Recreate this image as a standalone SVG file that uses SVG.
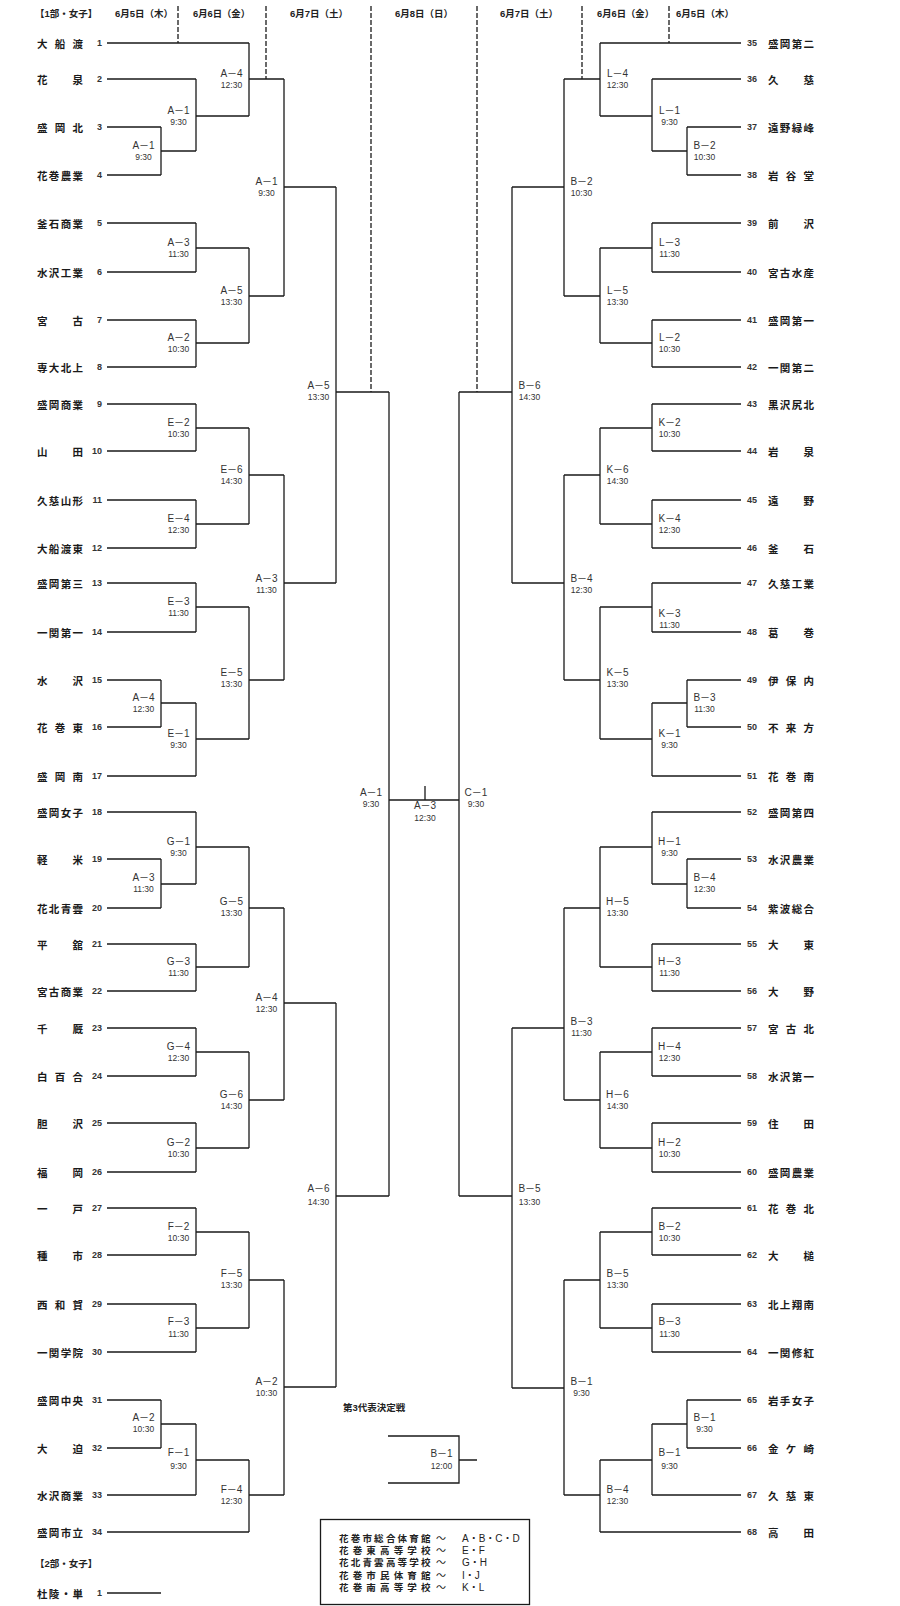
<svg xmlns="http://www.w3.org/2000/svg" width="900" height="1606" viewBox="0 0 900 1606">
<style>
.ln{stroke:#1a1a1a;stroke-width:1.3;fill:none}
.ds{stroke:#1a1a1a;stroke-width:1.3;fill:none;stroke-dasharray:5 2}
text{dominant-baseline:central}
.nm{font-family:"Noto Sans CJK JP",sans-serif;font-size:10.5px;font-weight:700;fill:#1a1a1a}
.no{font-family:"Liberation Sans",sans-serif;font-size:9px;font-weight:700;fill:#333}
.nl{text-anchor:end}
.hd{font-family:"Liberation Sans","Noto Sans CJK JP",sans-serif;font-size:9.5px;font-weight:700;fill:#222}
.mn{font-family:"Liberation Sans","Noto Sans CJK JP",sans-serif;font-size:10px;fill:#333;text-anchor:middle}
.mt{font-family:"Liberation Sans",sans-serif;font-size:8.5px;fill:#333;text-anchor:middle}
.lg{font-family:"Noto Sans CJK JP",sans-serif;font-size:9.5px;font-weight:700;fill:#222}
.lc{font-family:"Liberation Sans","Noto Sans CJK JP",sans-serif;font-size:10px;fill:#222}
</style>
<rect width="900" height="1606" fill="#fff"/>

<g id="headers">
<text class="hd" x="35" y="13">【1部・女子】</text>
<text class="hd" x="115" y="13" textLength="58" lengthAdjust="spacingAndGlyphs">6月5日（木）</text>
<text class="hd" x="193" y="13" textLength="57" lengthAdjust="spacingAndGlyphs">6月6日（金）</text>
<text class="hd" x="290" y="13" textLength="58" lengthAdjust="spacingAndGlyphs">6月7日（土）</text>
<text class="hd" x="395" y="13" textLength="58" lengthAdjust="spacingAndGlyphs">6月8日（日）</text>
<text class="hd" x="500" y="13" textLength="58" lengthAdjust="spacingAndGlyphs">6月7日（土）</text>
<text class="hd" x="597" y="13" textLength="57" lengthAdjust="spacingAndGlyphs">6月6日（金）</text>
<text class="hd" x="676" y="13" textLength="58" lengthAdjust="spacingAndGlyphs">6月5日（木）</text>
</g>

<g id="connectors">
<path class="ds" d="M178 6V43M266 6V79M371 6V392M477 6V392M582 6V79M669 6V43"/>
<path class="ln" d="M107 43H249M107 79H196M107 127H161M107 175H161M107 223H196M107 272H196M107 320H196M107 367H196M107 404H196M107 451H196M107 500H196M107 548H196M107 583H196M107 632H196M107 680H161M107 727H161M107 776H196M107 812H196M107 859H161M107 908H161M107 944H196M107 991H196M107 1028H196M107 1076H196M107 1123H196M107 1172H196M107 1208H196M107 1255H196M107 1304H196M107 1352H196M107 1400H161M107 1448H161M107 1495H196M107 1532H249"/>
<path class="ln" d="M741 43H600M741 79H652M741 127H687M741 175H687M741 223H652M741 272H652M741 320H652M741 367H652M741 404H652M741 451H652M741 500H652M741 548H652M741 583H652M741 632H652M741 680H687M741 727H687M741 776H652M741 812H652M741 859H687M741 908H687M741 944H652M741 991H652M741 1028H652M741 1076H652M741 1123H652M741 1172H652M741 1208H652M741 1255H652M741 1304H652M741 1352H652M741 1400H687M741 1448H687M741 1495H652M741 1532H600"/>
<path class="ln" d="M161 127V175M161 151H196
M196 79V151M196 116H249
M249 43V116M249 79H284
M196 223V272M196 248H249
M196 320V367M196 343H249
M249 248V343M249 296H284
M284 79V296M284 187H336
M196 404V451M196 428H249
M196 500V548M196 524H249
M249 428V524M249 475H284
M196 583V632M196 607H249
M161 680V727M161 703H196
M196 703V776M196 739H249
M249 607V739M249 680H284
M284 475V680M284 583H336
M336 187V583M336 392H389
M196 812V884M196 847H249
M161 859V908M161 884H196
M196 944V991M196 967H249
M249 847V967M249 908H284
M196 1028V1076M196 1052H249
M196 1123V1172M196 1148H249
M249 1052V1148M249 1100H284
M284 908V1100M284 1003H336
M196 1208V1255M196 1232H249
M196 1304V1352M196 1328H249
M249 1232V1328M249 1280H284
M161 1400V1448M161 1424H196
M196 1424V1495M196 1460H249
M249 1460V1532M249 1495H284
M284 1280V1495M284 1387H336
M336 1003V1387M336 1196H389
M389 392V1196"/>
<path class="ln" d="M687 127V175M687 151H652
M652 79V151M652 116H600
M600 43V116M600 79H564
M652 223V272M652 248H600
M652 320V367M652 343H600
M600 248V343M600 296H564
M564 79V296M564 187H512
M652 404V451M652 428H600
M652 500V548M652 524H600
M600 428V524M600 475H564
M652 583V632M652 607H600
M687 680V727M687 703H652
M652 703V776M652 739H600
M600 607V739M600 680H564
M564 475V680M564 583H512
M512 187V583M512 392H459
M687 859V908M687 884H652
M652 812V884M652 847H600
M652 944V991M652 967H600
M600 847V967M600 908H564
M652 1028V1076M652 1052H600
M652 1123V1172M652 1148H600
M600 1052V1148M600 1100H564
M564 908V1100M564 1028H512
M652 1208V1255M652 1232H600
M652 1304V1352M652 1328H600
M600 1232V1328M600 1280H564
M687 1400V1448M687 1424H652
M652 1424V1495M652 1460H600
M600 1460V1532M600 1495H564
M564 1280V1495M564 1388H512
M512 1028V1388M512 1196H459
M459 392V1196"/>
<path class="ln" d="M389 800H459M425 786V800"/>
<path class="ln" d="M388 1436H459V1483H388M459 1460H477"/>
<path class="ln" d="M107 1593H161"/>
</g>

<g id="left-teams">
<g id="t1"><text class="nm" x="37 54.8 72.5" y="43">大船渡</text><text class="no nl" x="102" y="43">1</text></g>
<g id="t2"><text class="nm" x="37 72.5" y="79">花泉</text><text class="no nl" x="102" y="79">2</text></g>
<g id="t3"><text class="nm" x="37 54.8 72.5" y="127">盛岡北</text><text class="no nl" x="102" y="127">3</text></g>
<g id="t4"><text class="nm" x="37 48.8 60.7 72.5" y="175">花巻農業</text><text class="no nl" x="102" y="175">4</text></g>
<g id="t5"><text class="nm" x="37 48.8 60.7 72.5" y="223">釜石商業</text><text class="no nl" x="102" y="223">5</text></g>
<g id="t6"><text class="nm" x="37 48.8 60.7 72.5" y="272">水沢工業</text><text class="no nl" x="102" y="272">6</text></g>
<g id="t7"><text class="nm" x="37 72.5" y="320">宮古</text><text class="no nl" x="102" y="320">7</text></g>
<g id="t8"><text class="nm" x="37 48.8 60.7 72.5" y="367">専大北上</text><text class="no nl" x="102" y="367">8</text></g>
<g id="t9"><text class="nm" x="37 48.8 60.7 72.5" y="404">盛岡商業</text><text class="no nl" x="102" y="404">9</text></g>
<g id="t10"><text class="nm" x="37 72.5" y="451">山田</text><text class="no nl" x="102" y="451">10</text></g>
<g id="t11"><text class="nm" x="37 48.8 60.7 72.5" y="500">久慈山形</text><text class="no nl" x="102" y="500">11</text></g>
<g id="t12"><text class="nm" x="37 48.8 60.7 72.5" y="548">大船渡東</text><text class="no nl" x="102" y="548">12</text></g>
<g id="t13"><text class="nm" x="37 48.8 60.7 72.5" y="583">盛岡第三</text><text class="no nl" x="102" y="583">13</text></g>
<g id="t14"><text class="nm" x="37 48.8 60.7 72.5" y="632">一関第一</text><text class="no nl" x="102" y="632">14</text></g>
<g id="t15"><text class="nm" x="37 72.5" y="680">水沢</text><text class="no nl" x="102" y="680">15</text></g>
<g id="t16"><text class="nm" x="37 54.8 72.5" y="727">花巻東</text><text class="no nl" x="102" y="727">16</text></g>
<g id="t17"><text class="nm" x="37 54.8 72.5" y="776">盛岡南</text><text class="no nl" x="102" y="776">17</text></g>
<g id="t18"><text class="nm" x="37 48.8 60.7 72.5" y="812">盛岡女子</text><text class="no nl" x="102" y="812">18</text></g>
<g id="t19"><text class="nm" x="37 72.5" y="859">軽米</text><text class="no nl" x="102" y="859">19</text></g>
<g id="t20"><text class="nm" x="37 48.8 60.7 72.5" y="908">花北青雲</text><text class="no nl" x="102" y="908">20</text></g>
<g id="t21"><text class="nm" x="37 72.5" y="944">平舘</text><text class="no nl" x="102" y="944">21</text></g>
<g id="t22"><text class="nm" x="37 48.8 60.7 72.5" y="991">宮古商業</text><text class="no nl" x="102" y="991">22</text></g>
<g id="t23"><text class="nm" x="37 72.5" y="1028">千厩</text><text class="no nl" x="102" y="1028">23</text></g>
<g id="t24"><text class="nm" x="37 54.8 72.5" y="1076">白百合</text><text class="no nl" x="102" y="1076">24</text></g>
<g id="t25"><text class="nm" x="37 72.5" y="1123">胆沢</text><text class="no nl" x="102" y="1123">25</text></g>
<g id="t26"><text class="nm" x="37 72.5" y="1172">福岡</text><text class="no nl" x="102" y="1172">26</text></g>
<g id="t27"><text class="nm" x="37 72.5" y="1208">一戸</text><text class="no nl" x="102" y="1208">27</text></g>
<g id="t28"><text class="nm" x="37 72.5" y="1255">種市</text><text class="no nl" x="102" y="1255">28</text></g>
<g id="t29"><text class="nm" x="37 54.8 72.5" y="1304">西和賀</text><text class="no nl" x="102" y="1304">29</text></g>
<g id="t30"><text class="nm" x="37 48.8 60.7 72.5" y="1352">一関学院</text><text class="no nl" x="102" y="1352">30</text></g>
<g id="t31"><text class="nm" x="37 48.8 60.7 72.5" y="1400">盛岡中央</text><text class="no nl" x="102" y="1400">31</text></g>
<g id="t32"><text class="nm" x="37 72.5" y="1448">大迫</text><text class="no nl" x="102" y="1448">32</text></g>
<g id="t33"><text class="nm" x="37 48.8 60.7 72.5" y="1495">水沢商業</text><text class="no nl" x="102" y="1495">33</text></g>
<g id="t34"><text class="nm" x="37 48.8 60.7 72.5" y="1532">盛岡市立</text><text class="no nl" x="102" y="1532">34</text></g>
</g>

<g id="right-teams">
<g id="t35"><text class="no" x="747" y="43">35</text><text class="nm" x="768 779.8 791.7 803.5" y="43">盛岡第二</text></g>
<g id="t36"><text class="no" x="747" y="79">36</text><text class="nm" x="768 803.5" y="79">久慈</text></g>
<g id="t37"><text class="no" x="747" y="127">37</text><text class="nm" x="768 779.8 791.7 803.5" y="127">遠野緑峰</text></g>
<g id="t38"><text class="no" x="747" y="175">38</text><text class="nm" x="768 785.8 803.5" y="175">岩谷堂</text></g>
<g id="t39"><text class="no" x="747" y="223">39</text><text class="nm" x="768 803.5" y="223">前沢</text></g>
<g id="t40"><text class="no" x="747" y="272">40</text><text class="nm" x="768 779.8 791.7 803.5" y="272">宮古水産</text></g>
<g id="t41"><text class="no" x="747" y="320">41</text><text class="nm" x="768 779.8 791.7 803.5" y="320">盛岡第一</text></g>
<g id="t42"><text class="no" x="747" y="367">42</text><text class="nm" x="768 779.8 791.7 803.5" y="367">一関第二</text></g>
<g id="t43"><text class="no" x="747" y="404">43</text><text class="nm" x="768 779.8 791.7 803.5" y="404">黒沢尻北</text></g>
<g id="t44"><text class="no" x="747" y="451">44</text><text class="nm" x="768 803.5" y="451">岩泉</text></g>
<g id="t45"><text class="no" x="747" y="500">45</text><text class="nm" x="768 803.5" y="500">遠野</text></g>
<g id="t46"><text class="no" x="747" y="548">46</text><text class="nm" x="768 803.5" y="548">釜石</text></g>
<g id="t47"><text class="no" x="747" y="583">47</text><text class="nm" x="768 779.8 791.7 803.5" y="583">久慈工業</text></g>
<g id="t48"><text class="no" x="747" y="632">48</text><text class="nm" x="768 803.5" y="632">葛巻</text></g>
<g id="t49"><text class="no" x="747" y="680">49</text><text class="nm" x="768 785.8 803.5" y="680">伊保内</text></g>
<g id="t50"><text class="no" x="747" y="727">50</text><text class="nm" x="768 785.8 803.5" y="727">不来方</text></g>
<g id="t51"><text class="no" x="747" y="776">51</text><text class="nm" x="768 785.8 803.5" y="776">花巻南</text></g>
<g id="t52"><text class="no" x="747" y="812">52</text><text class="nm" x="768 779.8 791.7 803.5" y="812">盛岡第四</text></g>
<g id="t53"><text class="no" x="747" y="859">53</text><text class="nm" x="768 779.8 791.7 803.5" y="859">水沢農業</text></g>
<g id="t54"><text class="no" x="747" y="908">54</text><text class="nm" x="768 779.8 791.7 803.5" y="908">紫波総合</text></g>
<g id="t55"><text class="no" x="747" y="944">55</text><text class="nm" x="768 803.5" y="944">大東</text></g>
<g id="t56"><text class="no" x="747" y="991">56</text><text class="nm" x="768 803.5" y="991">大野</text></g>
<g id="t57"><text class="no" x="747" y="1028">57</text><text class="nm" x="768 785.8 803.5" y="1028">宮古北</text></g>
<g id="t58"><text class="no" x="747" y="1076">58</text><text class="nm" x="768 779.8 791.7 803.5" y="1076">水沢第一</text></g>
<g id="t59"><text class="no" x="747" y="1123">59</text><text class="nm" x="768 803.5" y="1123">住田</text></g>
<g id="t60"><text class="no" x="747" y="1172">60</text><text class="nm" x="768 779.8 791.7 803.5" y="1172">盛岡農業</text></g>
<g id="t61"><text class="no" x="747" y="1208">61</text><text class="nm" x="768 785.8 803.5" y="1208">花巻北</text></g>
<g id="t62"><text class="no" x="747" y="1255">62</text><text class="nm" x="768 803.5" y="1255">大槌</text></g>
<g id="t63"><text class="no" x="747" y="1304">63</text><text class="nm" x="768 779.8 791.7 803.5" y="1304">北上翔南</text></g>
<g id="t64"><text class="no" x="747" y="1352">64</text><text class="nm" x="768 779.8 791.7 803.5" y="1352">一関修紅</text></g>
<g id="t65"><text class="no" x="747" y="1400">65</text><text class="nm" x="768 779.8 791.7 803.5" y="1400">岩手女子</text></g>
<g id="t66"><text class="no" x="747" y="1448">66</text><text class="nm" x="768 785.8 803.5" y="1448">金ケ崎</text></g>
<g id="t67"><text class="no" x="747" y="1495">67</text><text class="nm" x="768 785.8 803.5" y="1495">久慈東</text></g>
<g id="t68"><text class="no" x="747" y="1532">68</text><text class="nm" x="768 803.5" y="1532">高田</text></g>
</g>

<g id="left-matches">
<g id="mL1"><text class="mn" x="143.5" y="145">A－1</text><text class="mt" x="143.5" y="157">9:30</text></g>
<g id="mL2"><text class="mn" x="178.5" y="110">A－1</text><text class="mt" x="178.5" y="122">9:30</text></g>
<g id="mL3"><text class="mn" x="231.5" y="73">A－4</text><text class="mt" x="231.5" y="85">12:30</text></g>
<g id="mL4"><text class="mn" x="178.5" y="242">A－3</text><text class="mt" x="178.5" y="254">11:30</text></g>
<g id="mL5"><text class="mn" x="178.5" y="337">A－2</text><text class="mt" x="178.5" y="349">10:30</text></g>
<g id="mL6"><text class="mn" x="231.5" y="290">A－5</text><text class="mt" x="231.5" y="302">13:30</text></g>
<g id="mL7"><text class="mn" x="266.5" y="181">A－1</text><text class="mt" x="266.5" y="193">9:30</text></g>
<g id="mL8"><text class="mn" x="178.5" y="422">E－2</text><text class="mt" x="178.5" y="434">10:30</text></g>
<g id="mL9"><text class="mn" x="178.5" y="518">E－4</text><text class="mt" x="178.5" y="530">12:30</text></g>
<g id="mL10"><text class="mn" x="231.5" y="469">E－6</text><text class="mt" x="231.5" y="481">14:30</text></g>
<g id="mL11"><text class="mn" x="178.5" y="601">E－3</text><text class="mt" x="178.5" y="613">11:30</text></g>
<g id="mL12"><text class="mn" x="143.5" y="697">A－4</text><text class="mt" x="143.5" y="709">12:30</text></g>
<g id="mL13"><text class="mn" x="178.5" y="733">E－1</text><text class="mt" x="178.5" y="745">9:30</text></g>
<g id="mL14"><text class="mn" x="231.5" y="672">E－5</text><text class="mt" x="231.5" y="684">13:30</text></g>
<g id="mL15"><text class="mn" x="266.5" y="578">A－3</text><text class="mt" x="266.5" y="590">11:30</text></g>
<g id="mL16"><text class="mn" x="318.5" y="385">A－5</text><text class="mt" x="318.5" y="397">13:30</text></g>
<g id="mL17"><text class="mn" x="178.5" y="841">G－1</text><text class="mt" x="178.5" y="853">9:30</text></g>
<g id="mL18"><text class="mn" x="143.5" y="877">A－3</text><text class="mt" x="143.5" y="889">11:30</text></g>
<g id="mL19"><text class="mn" x="178.5" y="961">G－3</text><text class="mt" x="178.5" y="973">11:30</text></g>
<g id="mL20"><text class="mn" x="231.5" y="901">G－5</text><text class="mt" x="231.5" y="913">13:30</text></g>
<g id="mL21"><text class="mn" x="178.5" y="1046">G－4</text><text class="mt" x="178.5" y="1058">12:30</text></g>
<g id="mL22"><text class="mn" x="178.5" y="1142">G－2</text><text class="mt" x="178.5" y="1154">10:30</text></g>
<g id="mL23"><text class="mn" x="231.5" y="1094">G－6</text><text class="mt" x="231.5" y="1106">14:30</text></g>
<g id="mL24"><text class="mn" x="266.5" y="997">A－4</text><text class="mt" x="266.5" y="1009">12:30</text></g>
<g id="mL25"><text class="mn" x="178.5" y="1226">F－2</text><text class="mt" x="178.5" y="1238">10:30</text></g>
<g id="mL26"><text class="mn" x="178.5" y="1321">F－3</text><text class="mt" x="178.5" y="1334">11:30</text></g>
<g id="mL27"><text class="mn" x="231.5" y="1273">F－5</text><text class="mt" x="231.5" y="1285">13:30</text></g>
<g id="mL28"><text class="mn" x="143.5" y="1417">A－2</text><text class="mt" x="143.5" y="1429">10:30</text></g>
<g id="mL29"><text class="mn" x="178.5" y="1452">F－1</text><text class="mt" x="178.5" y="1466">9:30</text></g>
<g id="mL30"><text class="mn" x="231.5" y="1489">F－4</text><text class="mt" x="231.5" y="1501">12:30</text></g>
<g id="mL31"><text class="mn" x="266.5" y="1381">A－2</text><text class="mt" x="266.5" y="1393">10:30</text></g>
<g id="mL32"><text class="mn" x="318.5" y="1188">A－6</text><text class="mt" x="318.5" y="1202">14:30</text></g>
<g id="mL33"><text class="mn" x="371" y="792">A－1</text><text class="mt" x="371" y="804">9:30</text></g>
</g>

<g id="right-matches">
<g id="mR1"><text class="mn" x="704.5" y="145">B－2</text><text class="mt" x="704.5" y="157">10:30</text></g>
<g id="mR2"><text class="mn" x="669.5" y="110">L－1</text><text class="mt" x="669.5" y="122">9:30</text></g>
<g id="mR3"><text class="mn" x="617.5" y="73">L－4</text><text class="mt" x="617.5" y="85">12:30</text></g>
<g id="mR4"><text class="mn" x="669.5" y="242">L－3</text><text class="mt" x="669.5" y="254">11:30</text></g>
<g id="mR5"><text class="mn" x="669.5" y="337">L－2</text><text class="mt" x="669.5" y="349">10:30</text></g>
<g id="mR6"><text class="mn" x="617.5" y="290">L－5</text><text class="mt" x="617.5" y="302">13:30</text></g>
<g id="mR7"><text class="mn" x="581.5" y="181">B－2</text><text class="mt" x="581.5" y="193">10:30</text></g>
<g id="mR8"><text class="mn" x="669.5" y="422">K－2</text><text class="mt" x="669.5" y="434">10:30</text></g>
<g id="mR9"><text class="mn" x="669.5" y="518">K－4</text><text class="mt" x="669.5" y="530">12:30</text></g>
<g id="mR10"><text class="mn" x="617.5" y="469">K－6</text><text class="mt" x="617.5" y="481">14:30</text></g>
<g id="mR11"><text class="mn" x="669.5" y="613">K－3</text><text class="mt" x="669.5" y="625">11:30</text></g>
<g id="mR12"><text class="mn" x="704.5" y="697">B－3</text><text class="mt" x="704.5" y="709">11:30</text></g>
<g id="mR13"><text class="mn" x="669.5" y="733">K－1</text><text class="mt" x="669.5" y="745">9:30</text></g>
<g id="mR14"><text class="mn" x="617.5" y="672">K－5</text><text class="mt" x="617.5" y="684">13:30</text></g>
<g id="mR15"><text class="mn" x="581.5" y="578">B－4</text><text class="mt" x="581.5" y="590">12:30</text></g>
<g id="mR16"><text class="mn" x="529.5" y="385">B－6</text><text class="mt" x="529.5" y="397">14:30</text></g>
<g id="mR17"><text class="mn" x="704.5" y="877">B－4</text><text class="mt" x="704.5" y="889">12:30</text></g>
<g id="mR18"><text class="mn" x="669.5" y="841">H－1</text><text class="mt" x="669.5" y="853">9:30</text></g>
<g id="mR19"><text class="mn" x="669.5" y="961">H－3</text><text class="mt" x="669.5" y="973">11:30</text></g>
<g id="mR20"><text class="mn" x="617.5" y="901">H－5</text><text class="mt" x="617.5" y="913">13:30</text></g>
<g id="mR21"><text class="mn" x="669.5" y="1046">H－4</text><text class="mt" x="669.5" y="1058">12:30</text></g>
<g id="mR22"><text class="mn" x="669.5" y="1142">H－2</text><text class="mt" x="669.5" y="1154">10:30</text></g>
<g id="mR23"><text class="mn" x="617.5" y="1094">H－6</text><text class="mt" x="617.5" y="1106">14:30</text></g>
<g id="mR24"><text class="mn" x="581.5" y="1021">B－3</text><text class="mt" x="581.5" y="1033">11:30</text></g>
<g id="mR25"><text class="mn" x="669.5" y="1226">B－2</text><text class="mt" x="669.5" y="1238">10:30</text></g>
<g id="mR26"><text class="mn" x="669.5" y="1321">B－3</text><text class="mt" x="669.5" y="1334">11:30</text></g>
<g id="mR27"><text class="mn" x="617.5" y="1273">B－5</text><text class="mt" x="617.5" y="1285">13:30</text></g>
<g id="mR28"><text class="mn" x="704.5" y="1417">B－1</text><text class="mt" x="704.5" y="1429">9:30</text></g>
<g id="mR29"><text class="mn" x="669.5" y="1452">B－1</text><text class="mt" x="669.5" y="1466">9:30</text></g>
<g id="mR30"><text class="mn" x="617.5" y="1489">B－4</text><text class="mt" x="617.5" y="1501">12:30</text></g>
<g id="mR31"><text class="mn" x="581.5" y="1381">B－1</text><text class="mt" x="581.5" y="1393">9:30</text></g>
<g id="mR32"><text class="mn" x="529.5" y="1188">B－5</text><text class="mt" x="529.5" y="1202">13:30</text></g>
<g id="mR33"><text class="mn" x="476" y="792">C－1</text><text class="mt" x="476" y="804">9:30</text></g>
</g>

<g id="final"><text class="mn" x="425" y="805">A－3</text><text class="mt" x="425" y="818">12:30</text></g>

<g id="third-place">
<text class="hd" x="343" y="1407">第3代表決定戦</text>
<text class="mn" x="441.5" y="1453">B－1</text><text class="mt" x="441.5" y="1466">12:00</text>
</g>

<g id="division2">
<text class="hd" x="35" y="1563">【2部・女子】</text>
<text class="nm" x="37 48.8 60.7 72.5" y="1593">杜陵・単</text><text class="no nl" x="102" y="1593">1</text>
</g>

<g id="legend">
<rect x="320.5" y="1519.5" width="209" height="85" fill="none" stroke="#1a1a1a" stroke-width="1.3"/>
<text class="lg" x="339 350.7 362.4 374.1 385.9 397.6 409.3 421" y="1538">花巻市総合体育館</text>
<text class="lg" x="339 352.7 366.3 380 393.7 407.3 421" y="1550">花巻東高等学校</text>
<text class="lg" x="339 350.7 362.4 374.1 385.9 397.6 409.3 421" y="1562">花北青雲高等学校</text>
<text class="lg" x="339 352.7 366.3 380 393.7 407.3 421" y="1575">花巻市民体育館</text>
<text class="lg" x="339 352.7 366.3 380 393.7 407.3 421" y="1587">花巻南高等学校</text>
<text class="lc" x="436" y="1538">～</text><text class="lc" x="462" y="1538">A・B・C・D</text>
<text class="lc" x="436" y="1550">～</text><text class="lc" x="462" y="1550">E・F</text>
<text class="lc" x="436" y="1562">～</text><text class="lc" x="462" y="1562">G・H</text>
<text class="lc" x="436" y="1575">～</text><text class="lc" x="462" y="1575">I・J</text>
<text class="lc" x="436" y="1587">～</text><text class="lc" x="462" y="1587">K・L</text>
</g>
</svg>
